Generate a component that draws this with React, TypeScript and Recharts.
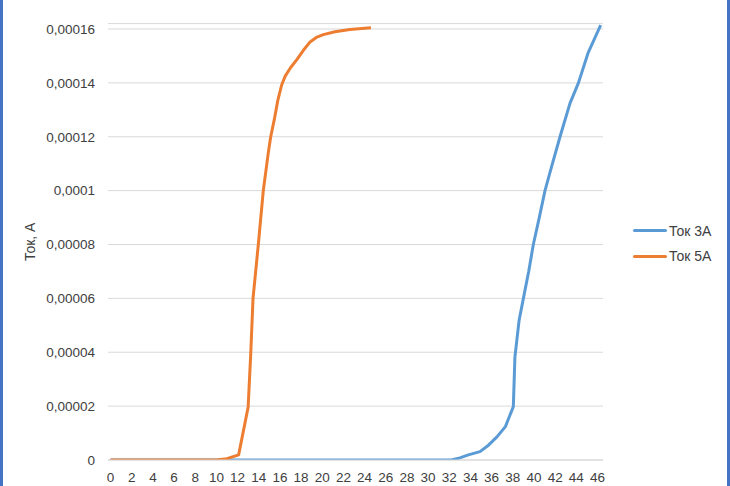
import React from 'react';
import { LineChart, Line, XAxis, YAxis, CartesianGrid, Legend } from 'recharts';

const seriesNames = ['Ток 3А', 'Ток 5А'];
const seriesColors = ['#5B9BD5', '#ED7D31'];

const tok3A = [
  { x: 0, y: 0 },
  { x: 32.2, y: 0 },
  { x: 33.0, y: 0.0000008 },
  { x: 33.8, y: 0.0000019 },
  { x: 34.9, y: 0.0000031 },
  { x: 35.7, y: 0.0000055 },
  { x: 36.5, y: 0.0000086 },
  { x: 37.3, y: 0.0000124 },
  { x: 38.05, y: 0.0000198 },
  { x: 38.2, y: 0.0000383 },
  { x: 38.6, y: 0.000052 },
  { x: 39.0, y: 0.00006 },
  { x: 39.5, y: 0.00007 },
  { x: 39.94, y: 0.00008 },
  { x: 40.5, y: 0.00009 },
  { x: 41.04, y: 0.0001 },
  { x: 41.67, y: 0.000109 },
  { x: 42.46, y: 0.00012 },
  { x: 43.4, y: 0.0001324 },
  { x: 44.2, y: 0.00014 },
  { x: 45.1, y: 0.000151 },
  { x: 46.3, y: 0.0001614 },
];

const tok5A = [
  { x: 0, y: 0 },
  { x: 10.0, y: 0 },
  { x: 11.0, y: 0.0000005 },
  { x: 12.1, y: 0.0000019 },
  { x: 13.0, y: 0.0000197 },
  { x: 13.25, y: 0.00004 },
  { x: 13.46, y: 0.00006 },
  { x: 13.96, y: 0.00008 },
  { x: 14.43, y: 0.0001 },
  { x: 14.9, y: 0.000114 },
  { x: 15.13, y: 0.00012 },
  { x: 15.5, y: 0.000127 },
  { x: 15.8, y: 0.0001335 },
  { x: 16.17, y: 0.0001393 },
  { x: 16.5, y: 0.0001425 },
  { x: 17.0, y: 0.0001456 },
  { x: 17.6, y: 0.0001486 },
  { x: 18.2, y: 0.000152 },
  { x: 18.85, y: 0.0001552 },
  { x: 19.5, y: 0.000157 },
  { x: 20.1, y: 0.0001579 },
  { x: 21.2, y: 0.000159 },
  { x: 22.6, y: 0.0001598 },
  { x: 24.6, y: 0.0001605 },
];

const xTicks = [0, 2, 4, 6, 8, 10, 12, 14, 16, 18, 20, 22, 24, 26, 28, 30, 32, 34, 36, 38, 40, 42, 44, 46];
const yTicks = [0, 0.00002, 0.00004, 0.00006, 0.00008, 0.0001, 0.00012, 0.00014, 0.00016];
const yTitle = 'Ток, А';

const fmtY = (v: number) =>
  v === 0 ? '0' : v.toFixed(5).replace(/0+$/, '').replace('.', ',');

const FONT = 'Liberation Sans, Arial, sans-serif';
const TEXT = '#404040';

const LegendContent = () => (
  <div style={{ fontFamily: FONT, fontSize: 14, color: TEXT, width: 100 }}>
    {seriesNames.map((n, i) => (
      <div key={n} style={{ display: 'flex', alignItems: 'center', height: 25.5 }}>
        <div style={{ width: 34, height: 3, background: seriesColors[i], borderRadius: 1.5, marginRight: 2 }} />
        <span>{n}</span>
      </div>
    ))}
  </div>
);

export default function App() {
  return (
    <div style={{ position: 'absolute', left: 0, top: 0, width: 730, height: 486, background: '#fff', overflow: 'hidden' }}>
      <div style={{ position: 'absolute', left: 0, top: 0, width: 3, height: 486, background: '#4472C4' }} />
      <div style={{ position: 'absolute', right: 0, top: 0, width: 3, height: 486, background: '#4472C4' }} />
      <LineChart
        width={730}
        height={486}
        margin={{ top: 23.6, right: 127, bottom: 0, left: 0 }}
        style={{ fontFamily: FONT }}
      >
        <CartesianGrid vertical={false} stroke="#D9D9D9" strokeWidth={1} />
        <XAxis
          type="number"
          dataKey="x"
          domain={[-0.24, 46.52]}
          ticks={xTicks}
          allowDataOverflow
          interval={0}
          height={26}
          tickLine={false}
          tickMargin={6}
          axisLine={{ stroke: '#D9D9D9' }}
          tick={{ fill: TEXT, fontSize: 13.5 }}
        />
        <YAxis
          type="number"
          dataKey="y"
          domain={[0, 0.000162]}
          ticks={yTicks}
          allowDataOverflow
          interval={0}
          width={108}
          tickLine={false}
          tickMargin={7}
          axisLine={false}
          tickFormatter={fmtY}
          tick={{ fill: TEXT, fontSize: 13.5 }}
          label={{
            value: yTitle,
            angle: -90,
            position: 'insideLeft',
            offset: 30,
            style: { textAnchor: 'middle', fill: TEXT, fontSize: 14 },
          }}
        />
        <Legend
          content={<LegendContent />}
          wrapperStyle={{ position: 'absolute', left: 633, top: 218, width: 0, height: 0 }}
        />
        <Line
          data={tok3A}
          dataKey="y"
          name={seriesNames[0]}
          type="linear"
          stroke={seriesColors[0]}
          strokeWidth={3}
          dot={false}
          isAnimationActive={false}
          strokeLinejoin="round"
        />
        <Line
          data={tok5A}
          dataKey="y"
          name={seriesNames[1]}
          type="linear"
          stroke={seriesColors[1]}
          strokeWidth={3}
          dot={false}
          isAnimationActive={false}
          strokeLinejoin="round"
        />
      </LineChart>
    </div>
  );
}
